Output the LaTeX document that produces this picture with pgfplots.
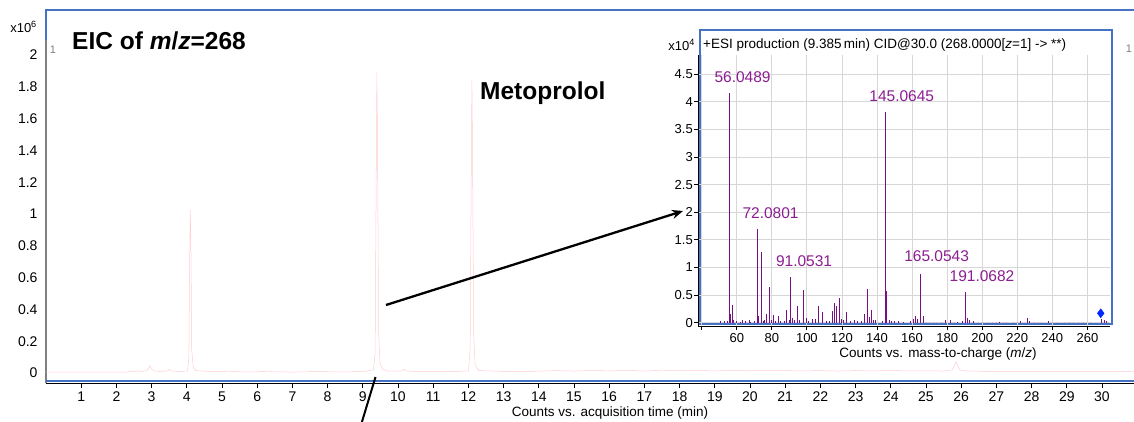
\documentclass[border=0pt]{standalone}
\usepackage{fontspec}
\setmainfont{Liberation Sans}
\usepackage{pgfplots}
\pgfplotsset{compat=1.18}
\usetikzlibrary{arrows.meta}

\definecolor{eicpink}{RGB}{255,205,210}
\definecolor{specpurple}{RGB}{120,15,130}
\definecolor{labpurple}{RGB}{140,30,145}
\definecolor{noisepink}{RGB}{225,160,215}
\definecolor{frameblue}{RGB}{68,114,196}
\definecolor{gridgray}{RGB}{215,215,215}

% product ion spectrum, m/z vs counts (x10^4)
\pgfplotstableread{
mz    cnt
51    0.03
53    0.03
55    0.03
55.8  4.15
56.6  0.15
57.4  0.32
58    0.04
60    0.03
62    0.02
63    0.04
65    0.03
67    0.04
68    0.02
70    0.03
71.7  1.70
72.6  0.12
74.0  1.285
75    0.03
76    0.05
76.9  0.16
78.6  0.65
80    0.05
80.9  0.14
82    0.03
83.7  0.12
85    0.03
87    0.03
88.3  0.23
90    0.04
90.6  0.83
92    0.08
93    0.05
94.6  0.30
96    0.04
98.0  0.59
99.5  0.08
101   0.03
103   0.06
104.8 0.06
106.5 0.30
108.8 0.19
111   0.03
113   0.03
114.5 0.21
115.7 0.35
116.8 0.30
118.5 0.44
120   0.06
121   0.05
122.5 0.19
125   0.03
127   0.04
129   0.03
131   0.03
133.0 0.15
134.7 0.61
135.6 0.10
136.8 0.23
138   0.04
139   0.05
143   0.03
144.8 3.81
145.4 0.57
147   0.04
148   0.03
150   0.03
152   0.03
155   0.02
159   0.03
161   0.06
161.9 0.12
163.3 0.07
164.7 0.89
166.4 0.12
179   0.04
182   0.04
186   0.02
189   0.03
190.4 0.55
191.6 0.08
193   0.04
195   0.03
210   0.02
222   0.03
225.8 0.08
227   0.03
238   0.03
268   0.06
269.5 0.04
271   0.03
}\spectrum

\pgfplotstableread{
mz    cnt
168   0.02
170   0.02
172   0.02
174   0.02
177   0.02
184   0.02
198   0.02
200   0.02
203   0.02
206   0.02
208   0.02
212   0.02
214   0.02
218   0.02
220   0.02
230   0.02
232   0.02
234   0.02
240   0.02
243   0.02
247   0.02
250   0.02
252   0.02
255   0.02
258   0.02
262   0.02
}\noise

\begin{document}
\begin{tikzpicture}
\useasboundingbox (0pt,0pt) rectangle (1134pt,421pt);

% main chromatogram
\begin{axis}[
  at={(46pt,38pt)}, anchor=south west, scale only axis,
  width=1088pt, height=373pt,
  xmin=0, xmax=30.91, ymin=-0.0629, ymax=2.283,
  axis x line*=bottom, axis y line*=left,
  x axis line style={black, line width=1pt},
  y axis line style={gray, line width=2pt},
  xtick={1,...,30},
  ytick={0,0.2,0.4,0.6,0.8,1,1.2,1.4,1.6,1.8,2},
  tick align=outside, major tick length=5pt,
  xtick style={black, line width=0.8pt},
  ytick style={draw=none},
  tick label style={font=\fontsize{14}{16}\selectfont, /pgf/number format/assume math mode=true},
  yticklabel style={/pgf/number format/fixed, /pgf/number format/precision=1},
  scaled ticks=false,
  xlabel={Counts vs. acquisition time (min)},
  xlabel style={font=\fontsize{13.5}{16}\selectfont, at={(axis description cs:0.5184,0)}, anchor=center, yshift=-30pt},
  clip=false,
]
\addplot[eicpink, line width=0.5pt] coordinates {
  (0,0.005) (1.0,0.005) (2.0,0.005) (2.3,0.006) (2.4,0.013) (2.5,0.008)
  (2.6,0.014) (2.7,0.009) (2.8,0.012) (2.9,0.02) (2.95,0.046) (3.0,0.025)
  (3.08,0.012) (3.3,0.01) (3.46,0.014) (3.5,0.024) (3.55,0.012) (3.8,0.01)
  (4.02,0.012) (4.06,0.1) (4.08,0.7) (4.1,1.025) (4.12,0.75) (4.14,0.15)
  (4.18,0.04) (4.25,0.015) (4.6,0.01) (5.0,0.008)
  (5.2,0.012) (5.4,0.008) (6.0,0.007) (6.3,0.012) (6.5,0.007) (7.0,0.006)
  (7.5,0.008) (8.0,0.008) (8.5,0.007) (9.0,0.009) (9.3,0.02) (9.35,0.12)
  (9.38,1.2) (9.4,1.89) (9.42,1.4) (9.45,0.25) (9.49,0.06)
  (9.56,0.025) (9.7,0.012) (10.1,0.012) (10.18,0.025) (10.26,0.012)
  (10.6,0.01) (11.0,0.008) (11.5,0.01) (12.0,0.012) (12.05,0.15)
  (12.08,1.2) (12.1,1.84) (12.12,1.3) (12.15,0.25) (12.19,0.05)
  (12.3,0.015) (13.0,0.01) (13.5,0.008) (14.0,0.012) (14.5,0.015) (15.0,0.012)
  (15.5,0.016) (16.0,0.013) (16.5,0.017) (17.0,0.012) (17.5,0.018) (18.0,0.014)
  (18.5,0.016) (19.0,0.013) (19.5,0.016) (20.0,0.014) (20.5,0.017) (21.0,0.015)
  (21.5,0.013) (22.0,0.015) (22.5,0.012) (23.0,0.015) (23.5,0.013) (24.0,0.016)
  (24.5,0.013) (25.0,0.014) (25.5,0.012) (25.75,0.02) (25.81,0.05) (25.86,0.07)
  (25.91,0.04) (25.97,0.018) (26.2,0.012) (27.0,0.01) (28.0,0.01) (29.0,0.01)
  (30.0,0.01) (30.91,0.01)
};
\end{axis}

% frame lines of the chromatogram
\draw[frameblue, line width=2.5pt] (46pt,40pt) -- (1134pt,40pt);
\draw[frameblue, line width=2pt] (46pt,411pt) -- (1134pt,411pt);
\draw[frameblue, line width=2pt] (46pt,412pt) -- (46pt,381pt);

\node[anchor=east, inner sep=0pt, font=\fontsize{13}{15}\selectfont] at (37pt,394pt) {x10\textsuperscript{6}};
\node[gray, font=\fontsize{11}{12}\selectfont] at (53pt,371pt) {1};
\node[gray, font=\fontsize{11}{12}\selectfont] at (1129pt,372pt) {1};
\node[anchor=base west, inner sep=0pt, font=\fontsize{24.5}{28}\selectfont\bfseries] at (72pt,371pt) {EIC of \textit{m}/\textit{z}=268};
\node[anchor=base west, inner sep=0pt, font=\fontsize{24.5}{28}\selectfont\bfseries] at (480pt,321pt) {Metoprolol};

% pointer lines
\draw[line width=2.3pt, -{Stealth[length=11pt,width=9pt]}] (386pt,116pt) -- (683pt,210pt);
\draw[line width=2pt] (375.5pt,44pt) -- (361pt,-4pt);

% inset frame
\fill[white] (700pt,97pt) rectangle (1112pt,391pt);
\draw[frameblue, line width=2pt] (700pt,97pt) rectangle (1112pt,391pt);

% inset: product ion spectrum
\begin{axis}[
  at={(698pt,95pt)}, anchor=south west, scale only axis,
  width=412pt, height=271pt,
  xmin=37.9, xmax=272.9, ymin=-0.06, ymax=4.845,
  axis x line*=bottom, axis y line*=left,
  axis line style={black, line width=0.8pt},
  xtick={40,60,...,260},
  xticklabels={,60,80,100,120,140,160,180,200,220,240,260},
  ytick={0,0.5,1,1.5,2,2.5,3,3.5,4,4.5},
  yticklabels={0,0.5,1,1.5,2,2.5,3,3.5,4,4.5},
  grid=major, grid style={gridgray, line width=0.8pt},
  tick align=outside, major tick length=4pt,
  tick style={black, line width=0.8pt},
  tick label style={font=\fontsize{13}{15}\selectfont},
  yticklabel style={inner sep=1pt},
  xlabel={Counts vs. mass-to-charge (\textit{m}/\textit{z})},
  xlabel style={font=\fontsize{13.5}{16}\selectfont, at={(axis description cs:0.5825,0)}, anchor=center, yshift=-28pt},
  clip=false,
]
\addplot[ycomb, noisepink, line width=0.9pt] table[x=mz, y=cnt] {\noise};
\addplot[ycomb, specpurple, line width=1pt] table[x=mz, y=cnt] {\spectrum};
\addplot[only marks, mark=diamond*, mark size=4.5pt, color={rgb,255:red,0;green,40;blue,255}] coordinates {(267.6,0.17)};
\begin{scope}[labpurple, font=\fontsize{15.5}{18}\selectfont]
\node at (axis cs:63.3,4.45) {56.0489};
\node at (axis cs:154.1,4.10) {145.0645};
\node at (axis cs:79.3,1.98) {72.0801};
\node at (axis cs:98.4,1.117) {91.0531};
\node at (axis cs:174.0,1.207) {165.0543};
\node at (axis cs:199.9,0.833) {191.0682};
\end{scope}
\end{axis}

\node[anchor=east, inner sep=0pt, font=\fontsize{13}{15}\selectfont] at (695pt,376pt) {x10\textsuperscript{4}};
\node[anchor=west, inner sep=0pt, font=\fontsize{13.5}{16}\selectfont] at (703pt,376pt) {+ESI production (9.385\,min) CID@30.0 (268.0000[\textit{z}=1] -> **)};
\end{tikzpicture}
\end{document}
